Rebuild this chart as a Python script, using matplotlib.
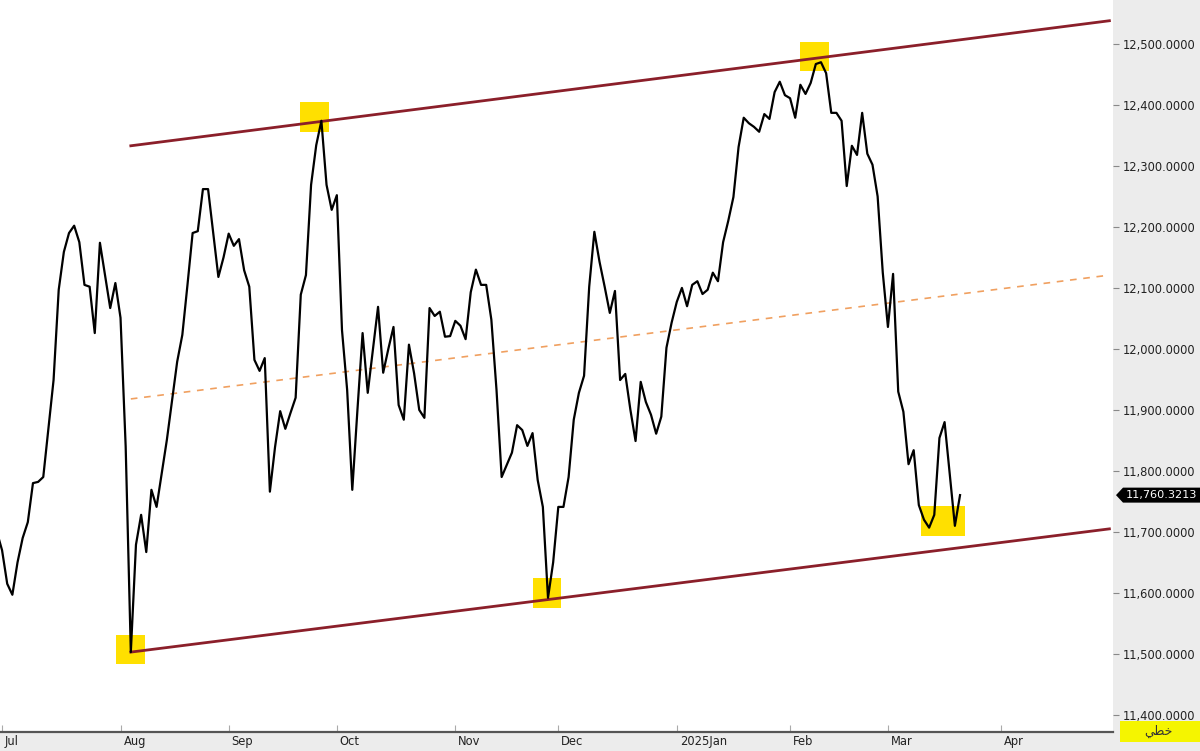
import matplotlib
matplotlib.use('Agg')
import matplotlib.pyplot as plt
import matplotlib.transforms as mtrans
from matplotlib.patches import Rectangle, Polygon

# trading-session number (0 = first session of July 2024) and closing value
day = [-1, 0, 1, 2, 3, 4, 5, 6, 7, 8, 9, 10, 11, 12, 13, 14, 15, 16, 17, 18, 19,
       20, 21, 22, 23, 24, 25, 26, 27, 28, 29, 30, 31, 32, 33, 34, 35, 36, 37, 38,
       39, 40, 41, 42, 43, 44, 45, 46, 47, 48, 49, 50, 51, 52, 53, 54, 55, 56, 57,
       58, 59, 60, 61, 62, 63, 64, 65, 66, 67, 68, 69, 70, 71, 72, 73, 74, 75, 76,
       77, 78, 79, 80, 81, 82, 83, 84, 85, 86, 87, 88, 89, 90, 91, 92, 93, 94, 95,
       96, 97, 98, 99, 100, 101, 102, 103, 104, 105, 106, 107, 108, 109, 110, 111,
       112, 113, 114, 115, 116, 117, 118, 119, 120, 121, 122, 123, 124, 125, 126,
       127, 128, 129, 130, 131, 132, 133, 134, 135, 136, 137, 138, 139, 140, 141,
       142, 143, 144, 145, 146, 147, 148, 149, 150, 151, 152, 153, 154, 155, 156,
       157, 158, 159, 160, 161, 162, 163, 164, 165, 166, 167, 168, 169, 170, 171,
       172, 173, 174, 175, 176, 177, 178, 179, 180, 181, 182, 183, 184, 185, 186]
close = [11700, 11670, 11615, 11597, 11650, 11690, 11716, 11780, 11782, 11790, 11870,
         11949, 12097, 12159, 12190, 12202, 12175, 12105, 12102, 12026, 12174,
         12120, 12067, 12108, 12051, 11840, 11503, 11679, 11728, 11667, 11769,
         11741, 11796, 11851, 11915, 11979, 12023, 12105, 12190, 12193, 12262,
         12262, 12190, 12118, 12150, 12189, 12169, 12180, 12129, 12102, 11982,
         11964, 11985, 11766, 11839, 11898, 11869, 11895, 11920, 12089, 12121,
         12269, 12334, 12374, 12269, 12228, 12252, 12031, 11933, 11769, 11900,
         12026, 11928, 11998, 12069, 11961, 12000, 12036, 11908, 11884, 12007,
         11960, 11900, 11887, 12067, 12054, 12061, 12020, 12021, 12046, 12038,
         12016, 12093, 12130, 12105, 12105, 12048, 11933, 11790, 11810, 11830,
         11875, 11867, 11841, 11862, 11785, 11741, 11592, 11650, 11741, 11741,
         11790, 11884, 11928, 11956, 12102, 12192, 12143, 12102, 12059, 12095,
         11949, 11959, 11900, 11849, 11946, 11913, 11892, 11861, 11889, 12002,
         12043, 12077, 12100, 12070, 12105, 12111, 12090, 12097, 12125, 12111,
         12175, 12210, 12249, 12331, 12379, 12370, 12364, 12356, 12385, 12377,
         12421, 12438, 12416, 12411, 12379, 12433, 12418, 12436, 12467, 12470,
         12452, 12387, 12387, 12374, 12267, 12333, 12318, 12387, 12320, 12302,
         12250, 12125, 12036, 12123, 11930, 11897, 11811, 11834, 11744, 11720,
         11707, 11728, 11854, 11880, 11795, 11710, 11760.3213]

# month labels and the session where each month starts
month_day = [0, 23, 44, 65, 88, 108, 131, 153, 172, 194]
month_lbl = ['Jul', 'Aug', 'Sep', 'Oct', 'Nov', 'Dec', '2025Jan', 'Feb', 'Mar', 'Apr']

# channel lines (start / end session, value)
chan_day = [25, 215]
upper = [12333, 12538]
lower = [11503, 11705]
middle = [11918, 12121]

# highlighted pivots
piv_day = [24.9, 60.6, 105.8, 157.7]
piv_val = [11507, 12380, 11600, 12479]
last_box = (182.7, 11718)

fig = plt.figure(figsize=(12, 7.51), dpi=100)
fig.patch.set_facecolor('#ececec')
ax = fig.add_axes([0, 0.0253, 0.9275, 0.9747])
ax.set_facecolor('white')

for d, v in zip(piv_day, piv_val):
    ax.add_patch(Rectangle((d - 2.8, v - 24), 5.6, 48, color='#ffe000', lw=0, zorder=1))
ax.add_patch(Rectangle((last_box[0] - 4.2, last_box[1] - 25), 8.4, 50,
                       color='#ffe000', lw=0, zorder=1))

ax.plot(chan_day, upper, color='#8b1f2a', lw=2, zorder=2)
ax.plot(chan_day, lower, color='#8b1f2a', lw=2, zorder=2)
ax.plot(chan_day, middle, color='#f0a060', lw=1.2, dashes=(4, 4), zorder=2)
ax.plot(day, close, color='black', lw=1.6, zorder=3)

ax.set_xlim(-0.4, 215.7)
ax.set_ylim(11372, 12572)

for s in ['top', 'left', 'right']:
    ax.spines[s].set_visible(False)
ax.spines['bottom'].set_color('#555555')
ax.spines['bottom'].set_linewidth(1.6)

ax.yaxis.tick_right()
ax.set_yticks(range(11400, 12501, 100))
ax.set_yticklabels(['{:,.4f}'.format(v) for v in range(11400, 12501, 100)])
ax.tick_params(axis='y', direction='out', length=4, width=0.8, color='#888888',
               labelsize=8.3, labelcolor='#222222', pad=3)

ax.set_xticks(month_day)
ax.set_xticklabels(month_lbl)
ax.tick_params(axis='x', direction='in', length=5, width=0.8, color='#aaaaaa',
               labelsize=8.3, labelcolor='#222222', pad=2)
off = mtrans.ScaledTranslation(3 / 100, 0, fig.dpi_scale_trans)
for lbl in ax.get_xticklabels():
    lbl.set_ha('left')
    lbl.set_transform(lbl.get_transform() + off)

# last price tag
blend = mtrans.blended_transform_factory(ax.transAxes, ax.transData)
tag_tr = fig.dpi_scale_trans + mtrans.ScaledTranslation(1.0, close[-1], blend)
tag = Polygon([(0.03, 0), (0.10, 0.075), (0.90, 0.075), (0.90, -0.075), (0.10, -0.075)],
              closed=True, fc='black', ec='none', transform=tag_tr, clip_on=False)
ax.add_patch(tag)
ax.text(1.0, close[-1], '{:,.4f}'.format(close[-1]), color='white', fontsize=8.1,
        va='center', ha='left', clip_on=False,
        transform=blend + mtrans.ScaledTranslation(0.13, 0, fig.dpi_scale_trans))

# scale type label
fig.patches.append(Rectangle((1120 / 1200, 1 - 742 / 751), 80 / 1200, 21 / 751,
                             transform=fig.transFigure, color='#f5f500', lw=0))
fig.text(1158 / 1200, 1 - 731 / 751, '\ufef2\ufec4\ufea7', fontsize=9, color='#333333',
         ha='center', va='center', family=['DejaVu Sans'])

plt.savefig('out.png', dpi=100, facecolor=fig.get_facecolor())
